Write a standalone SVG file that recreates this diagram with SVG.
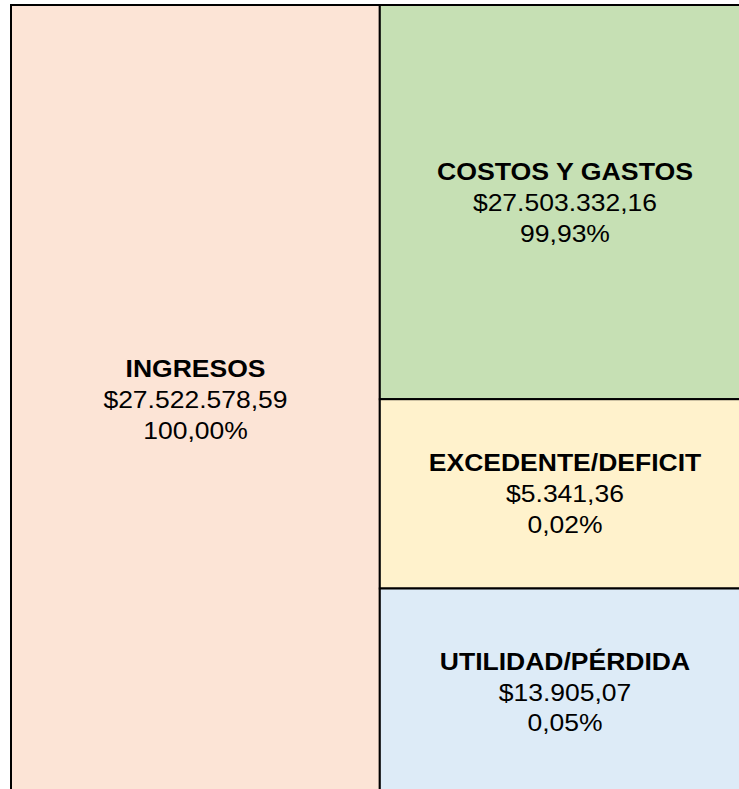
<svg xmlns="http://www.w3.org/2000/svg" width="739" height="789" viewBox="0 0 739 789">
  <style>
    .box { stroke: #000000; stroke-width: 2; }
    .t { font-family: "Liberation Sans", Arial, sans-serif; font-size: 24.5px; fill: #000000; text-anchor: middle; }
    .b { font-weight: bold; }
  </style>
  <rect x="0" y="0" width="739" height="789" fill="#FFFFFF"/>
  <g id="ingresos">
    <rect class="box" x="11" y="5" width="368.8" height="820" fill="#FCE4D6"/>
    <text class="t b" x="195.5" y="377" textLength="139.9" lengthAdjust="spacingAndGlyphs">INGRESOS</text>
    <text class="t" x="195.5" y="408" textLength="184.2" lengthAdjust="spacingAndGlyphs">$27.522.578,59</text>
    <text class="t" x="195.5" y="439" textLength="104.6" lengthAdjust="spacingAndGlyphs">100,00%</text>
  </g>
  <g id="costos">
    <rect class="box" x="379.8" y="5" width="400" height="394.2" fill="#C6E0B4"/>
    <text class="t b" x="565" y="180" textLength="256.2" lengthAdjust="spacingAndGlyphs">COSTOS Y GASTOS</text>
    <text class="t" x="565" y="211" textLength="184.2" lengthAdjust="spacingAndGlyphs">$27.503.332,16</text>
    <text class="t" x="565" y="242" textLength="89.9" lengthAdjust="spacingAndGlyphs">99,93%</text>
  </g>
  <g id="excedente">
    <rect class="box" x="379.8" y="399.2" width="400" height="189.3" fill="#FFF2CC"/>
    <text class="t b" x="565" y="471" textLength="272.4" lengthAdjust="spacingAndGlyphs">EXCEDENTE/DEFICIT</text>
    <text class="t" x="565" y="502" textLength="117.9" lengthAdjust="spacingAndGlyphs">$5.341,36</text>
    <text class="t" x="565" y="533" textLength="75.1" lengthAdjust="spacingAndGlyphs">0,02%</text>
  </g>
  <g id="utilidad">
    <rect class="box" x="379.8" y="588.5" width="400" height="300" fill="#DDEBF7"/>
    <text class="t b" x="565" y="670" textLength="250.3" lengthAdjust="spacingAndGlyphs">UTILIDAD/PÉRDIDA</text>
    <text class="t" x="565" y="701" textLength="132.6" lengthAdjust="spacingAndGlyphs">$13.905,07</text>
    <text class="t" x="565" y="731" textLength="75.1" lengthAdjust="spacingAndGlyphs">0,05%</text>
  </g>
  <g id="connectors"></g>
</svg>
